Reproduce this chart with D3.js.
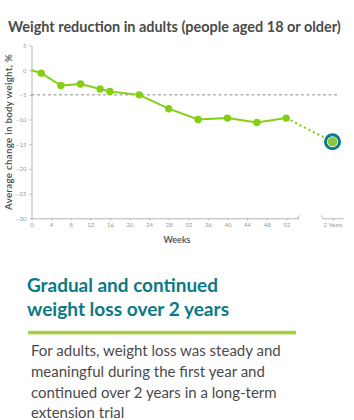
<!DOCTYPE html>
<html>
<head>
<meta charset="utf-8">
<script src="https://cdn.jsdelivr.net/npm/d3@7"></script>
<style>
  body { margin: 0; background: #fff; }
  svg { display: block; font-family: "Lato", "Open Sans", sans-serif; }
  .axis path, .axis line { stroke: #b5b5b5; }
  .axis text { fill: #9a9a9a; font-size: 6px; font-family: "Lato", sans-serif; }
</style>
</head>
<body>
<svg id="chart"></svg>
<script>
// data
const weeks = [0, 2, 6, 10, 14, 16, 22, 28, 34, 40, 46, 52];
const change = [0, -0.6, -3.1, -2.8, -3.8, -4.3, -5.0, -7.8, -10.0, -9.7, -10.6, -9.7];
const markerWeeks = [2, 6, 10, 14, 16, 22, 28, 34, 40, 46, 52];
const twoYearLabel = "2 Years";
const twoYearChange = -14.5;
const referenceLine = -5;
const xTicks = [0, 4, 8, 12, 16, 20, 24, 28, 32, 36, 40, 44, 48, 52];
const yTicks = [5, 0, -5, -10, -15, -20, -25, -30];

const title = "Weight reduction in adults (people aged 18 or older)";
const headline = ["Gradual and continued", "weight loss over 2 years"];
const body = ["For adults, weight loss was steady and",
              "meaningful during the first year and",
              "continued over 2 years in a long-term",
              "extension trial"];

const width = 354, height = 420;
const lime = "#84cf14", teal = "#0b7a84", grey = "#4a4a4a";

const svg = d3.select("#chart").attr("width", width).attr("height", height);

// fit a text element to a target width by tweaking font size, returns the size
function fit(sel, w) {
  const fs = parseFloat(sel.style("font-size"));
  const size = fs * w / sel.node().getComputedTextLength();
  sel.style("font-size", size.toFixed(2) + "px");
  return size;
}

const x = d3.scaleLinear().domain([0, 54.5]).range([31.5, 298.5]);
const x2 = d3.scalePoint().domain([twoYearLabel]).range([322, 343]).padding(0.5);
const y = d3.scaleLinear().domain([5, -30]).range([45.5, 218.3]);

// title
const t = svg.append("text")
  .attr("x", 8).attr("y", 32)
  .style("font-size", "13px").style("font-weight", 700).style("fill", grey)
  .text(title);
fit(t, 333);

// axes
svg.append("g").attr("class", "axis")
  .attr("transform", `translate(0,${y(-30)})`)
  .call(d3.axisBottom(x).tickValues(xTicks).tickSize(2).tickSizeOuter(0).tickPadding(2));
svg.append("g").attr("class", "axis")
  .attr("transform", `translate(0,${y(-30)})`)
  .call(d3.axisBottom(x2).tickSize(2).tickSizeOuter(0).tickPadding(2));
svg.append("g").attr("class", "axis")
  .attr("transform", `translate(${x(0)},0)`)
  .call(d3.axisLeft(y).tickValues(yTicks).tickSize(2).tickSizeOuter(0).tickPadding(3));

// little break marks at the axis ends
[[x.range()[1], 1], [x2.range()[0], -1]].forEach(([px, dir]) => {
  svg.append("line")
    .attr("x1", px - dir * 1).attr("y1", y(-30) + 0.5)
    .attr("x2", px + dir * 1).attr("y2", y(-30) - 3)
    .attr("stroke", "#b5b5b5");
});

// axis titles
svg.append("text")
  .attr("x", 177).attr("y", 243)
  .attr("text-anchor", "middle")
  .style("font-size", "9px").style("font-weight", 600).style("fill", grey)
  .text("Weeks");
const yl = svg.append("text")
  .attr("transform", `translate(11.5,${y(-12.5)}) rotate(-90)`)
  .attr("text-anchor", "middle")
  .style("font-size", "9px").style("font-weight", 600).style("fill", grey)
  .style("letter-spacing", "0.3px")
  .text("Average change in body weight, %");
fit(yl, 157);

// -5% reference
svg.append("line")
  .attr("x1", x(0)).attr("x2", 339)
  .attr("y1", y(referenceLine)).attr("y2", y(referenceLine))
  .attr("stroke", "#8a8a8a").attr("stroke-width", 1).attr("stroke-dasharray", "3,2.5");

// main line
const pts = weeks.map((w, i) => ({ w, v: change[i] }));
svg.append("path")
  .datum(pts)
  .attr("d", d3.line().x(d => x(d.w)).y(d => y(d.v)))
  .attr("fill", "none").attr("stroke", lime).attr("stroke-width", 2);

// dotted extension to 2 years
const last = pts[pts.length - 1];
svg.append("line")
  .attr("x1", x(last.w)).attr("y1", y(last.v))
  .attr("x2", x2(twoYearLabel)).attr("y2", y(twoYearChange))
  .attr("stroke", lime).attr("stroke-width", 2.2).attr("stroke-dasharray", "2,3");

svg.append("g").selectAll("circle")
  .data(pts.filter(d => markerWeeks.includes(d.w)))
  .join("circle")
  .attr("cx", d => x(d.w)).attr("cy", d => y(d.v))
  .attr("r", 3.7).attr("fill", lime);

// 2-year marker
svg.append("circle")
  .attr("cx", x2(twoYearLabel)).attr("cy", y(twoYearChange))
  .attr("r", 7).attr("fill", "#fff").attr("stroke", teal).attr("stroke-width", 3);
svg.append("circle")
  .attr("cx", x2(twoYearLabel)).attr("cy", y(twoYearChange))
  .attr("r", 4.8).attr("fill", "#8cc63f");

// headline
headline.forEach((s, i) => {
  const h = svg.append("text")
    .attr("x", 27).attr("y", 292 + i * 23.5)
    .style("font-size", "17px").style("font-weight", 700).style("fill", teal)
    .text(s);
  fit(h, i === 0 ? 191 : 202);
});

svg.append("rect")
  .attr("x", 28).attr("y", 330.8).attr("width", 268).attr("height", 3.6)
  .attr("fill", "#a6cf42");

let bodySize = 13.5;
body.forEach((s, i) => {
  const b = svg.append("text")
    .attr("x", 31).attr("y", 356 + i * 20.8)
    .style("font-size", bodySize + "px").style("fill", grey)
    .text(s);
  if (i === 0) bodySize = fit(b, 250);
});
</script>
</body>
</html>
